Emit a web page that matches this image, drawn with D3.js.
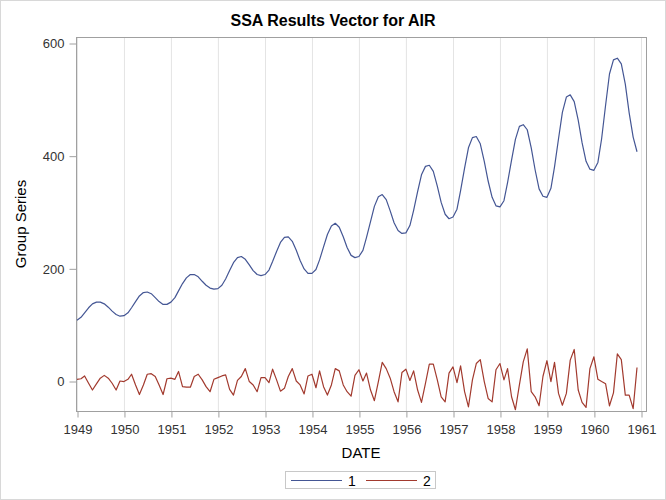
<!DOCTYPE html>
<html>
<head>
<meta charset="utf-8">
<script src="https://cdn.jsdelivr.net/npm/d3@7"></script>
<style>
  body { margin: 0; background: #fff; }
  svg { display: block; font-family: "Liberation Sans", Arial, sans-serif; }
</style>
</head>
<body>
<svg id="chart" width="666" height="500"></svg>
<script>
// ---- data ----
const startYear = 1949;
const seriesNames = ["1", "2"];
const series1 = [
  108,113,121,130,137,140,140,137,131,124,118,115,
  116,121,130,141,151,157,158,155,148,141,136,136,
  140,148,160,173,183,189,189,185,177,170,165,163,
  164,170,181,196,210,219,221,216,206,196,189,187,
  189,197,212,230,246,255,256,248,232,214,199,191,
  191,198,215,238,260,275,280,273,256,237,223,219,
  221,232,255,283,310,327,331,322,302,281,267,262,
  263,276,303,336,366,381,383,372,346,317,296,288,
  291,305,338,378,414,432,434,421,390,355,326,311,
  309,320,352,392,429,452,455,446,414,375,341,328,
  326,342,380,430,477,504,508,496,463,423,390,376,
  374,388,430,490,545,570,573,563,527,476,433,407
];
const series2 = [
  3,4,9,-4,-16,-5,5,10,5,-4,-16,0,
  -1,3,12,-7,-24,-7,12,13,8,-7,-24,4,
  5,3,17,-10,-11,-11,8,12,2,-10,-19,3,
  6,9,11,-15,-25,1,8,22,-1,-7,-19,6,
  6,-3,21,2,-18,-13,8,22,0,-7,-23,9,
  12,-12,18,-10,-25,-7,22,18,-7,-19,-27,10,
  20,0,14,-16,-35,-1,33,22,5,-19,-37,15,
  21,1,18,-16,-38,-4,30,30,2,-28,-37,14,
  25,-3,27,-19,-46,2,31,38,-1,-31,-37,20,
  31,2,22,-28,-51,-7,34,57,-19,-28,-44,8,
  36,-1,33,-22,-43,-22,37,56,-16,-38,-47,22,
  43,3,-1,-5,-44,-21,48,38,-25,-25,-49,24
];
const xTickYears = [1949,1950,1951,1952,1953,1954,1955,1956,1957,1958,1959,1960,1961];
const yTicks = [0, 200, 400, 600];
const colors = ["#445694", "#A23A2E"];

// ---- layout ----
const svg = d3.select("#chart");
const W = 666, H = 500;
const plot = { left: 76, right: 646, top: 37, bottom: 411 };

svg.append("rect").attr("x", 0.5).attr("y", 0.5).attr("width", W - 1).attr("height", H - 1)
  .attr("fill", "#fff").attr("stroke", "#d8d8d8");

const dates = series1.map((_, i) => new Date(startYear, i, 1));
const x = d3.scaleTime()
  .domain([new Date(1949, 0, 1), new Date(1961, 0, 1)])
  .range([77, 641]);
const y = d3.scaleLinear().domain([0, 600]).range([381, 43]);

// gridlines
svg.append("g").selectAll("line").data(xTickYears).join("line")
  .attr("x1", d => x(new Date(d, 0, 1)) + 0.5).attr("x2", d => x(new Date(d, 0, 1)) + 0.5)
  .attr("y1", plot.top).attr("y2", plot.bottom)
  .attr("stroke", "#e4e4e4").attr("stroke-width", 1);

// frame
svg.append("rect")
  .attr("x", plot.left + 0.5).attr("y", plot.top + 0.5)
  .attr("width", plot.right - plot.left).attr("height", plot.bottom - plot.top)
  .attr("fill", "none").attr("stroke", "#a0a0a0");

// axes
const xAxis = d3.axisBottom(x)
  .tickValues(xTickYears.map(d => new Date(d, 0, 1)))
  .tickFormat(d3.timeFormat("%Y")).tickSize(6).tickSizeOuter(0);
const gx = svg.append("g").attr("transform", `translate(0.5,${plot.bottom + 0.5})`).call(xAxis);
gx.select(".domain").remove();
gx.selectAll(".tick line").attr("stroke", "#a0a0a0");
gx.selectAll(".tick text").attr("font-size", 13).attr("fill", "#333").attr("dy", "1.05em")
  .attr("font-family", "Liberation Sans, Arial, sans-serif");

const yAxis = d3.axisLeft(y).tickValues(yTicks).tickFormat(d3.format("d")).tickSize(7).tickSizeOuter(0);
const gy = svg.append("g").attr("transform", `translate(${plot.left + 0.5},0.5)`).call(yAxis);
gy.select(".domain").remove();
gy.selectAll(".tick line").attr("stroke", "#a0a0a0");
gy.selectAll(".tick text").attr("font-size", 13).attr("fill", "#333").attr("x", -12)
  .attr("font-family", "Liberation Sans, Arial, sans-serif");

// lines
const line = d3.line().x((d, i) => x(dates[i])).y(d => y(d));
[series1, series2].forEach((s, k) => {
  svg.append("path").datum(s).attr("d", line)
    .attr("fill", "none").attr("stroke", colors[k]).attr("stroke-width", 1.2)
    .attr("stroke-linejoin", "round");
});

// title & labels
svg.append("text").attr("x", 333).attr("y", 26).attr("text-anchor", "middle")
  .attr("font-size", 16).attr("font-weight", "bold").attr("fill", "#000")
  .text("SSA Results Vector for AIR");
svg.append("text").attr("x", 361).attr("y", 458).attr("text-anchor", "middle")
  .attr("font-size", 15).attr("fill", "#000").text("DATE");
svg.append("text").attr("transform", `translate(26,${(plot.top + plot.bottom) / 2}) rotate(-90)`)
  .attr("text-anchor", "middle").attr("font-size", 15).attr("fill", "#000").text("Group Series");

// legend
const lg = svg.append("g");
lg.append("rect").attr("x", 285.5).attr("y", 471.5).attr("width", 150).attr("height", 17)
  .attr("fill", "#fff").attr("stroke", "#c8c8c8");
seriesNames.forEach((n, k) => {
  const x0 = 291 + k * 75;
  lg.append("line").attr("x1", x0).attr("x2", x0 + 51).attr("y1", 480.5).attr("y2", 480.5)
    .attr("stroke", colors[k]).attr("stroke-width", 1.2);
  lg.append("text").attr("x", x0 + 57).attr("y", 485.5).attr("font-size", 14).attr("fill", "#000").text(n);
});
</script>
</body>
</html>
